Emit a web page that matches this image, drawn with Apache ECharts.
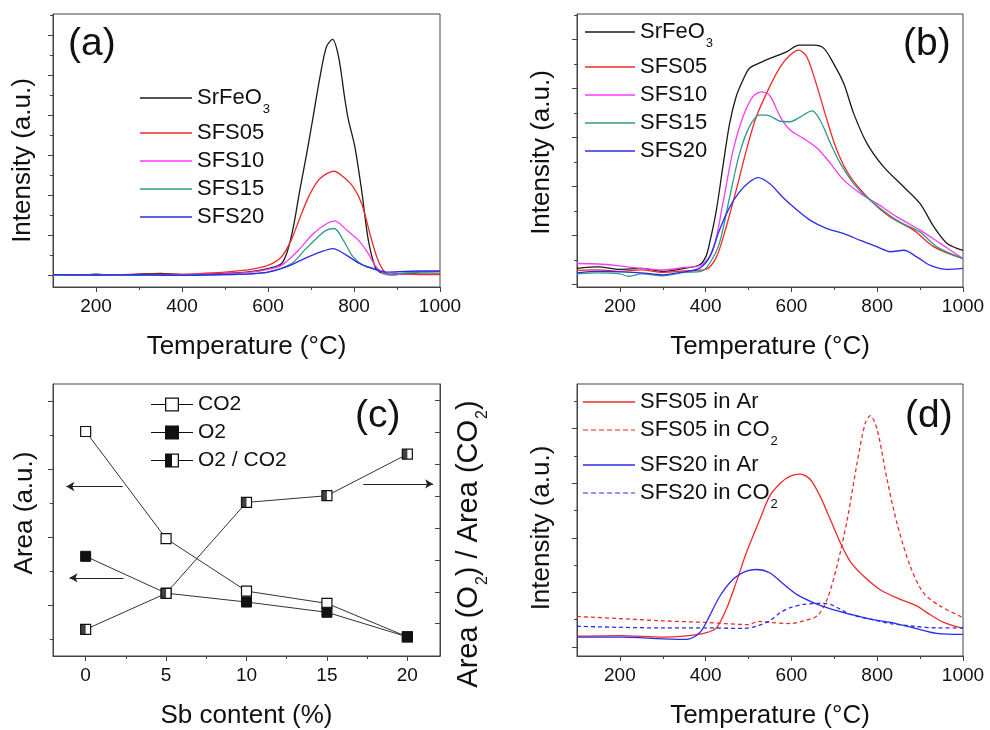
<!DOCTYPE html>
<html>
<head>
<meta charset="utf-8">
<script src="https://cdn.jsdelivr.net/npm/echarts@6/dist/echarts.min.js"></script>
<style>
html, body { margin: 0; padding: 0; background: #fff; }
#container { width: 990px; height: 730px; }
</style>
</head>
<body>
<div id="container"></div>
<script>
var FONT = 'Liberation Sans, Arial, sans-serif';
var AXIS = '#444';
var TXT = '#111';

// ---- (a) temperature vs intensity, [T, I]
var a_SrFeO3 = [[100,0.02],[150,0.0],[200,0.03],[250,0.0],[300,0.03],[350,0.05],[400,0.02],[450,0.03],[500,0.05],[550,0.08],[600,0.17],[631,0.29],[645,0.6],[659,1.21],[674,2.13],[690,3.04],[705,3.96],[721,4.96],[736,5.71],[750,5.89],[764,5.46],[779,4.38],[787,3.88],[802,3.21],[818,2.1],[833,0.9],[849,0.21],[860,0.08],[880,0.03],[920,0.04],[960,0.03],[1000,0.03]];
var a_SFS05 = [[100,0.02],[200,0.0],[300,0.03],[400,0.03],[450,0.05],[500,0.08],[560,0.15],[600,0.25],[631,0.46],[654,0.88],[675,1.46],[698,2.04],[721,2.42],[754,2.6],[775,2.46],[798,2.21],[818,1.79],[837,1.04],[853,0.46],[868,0.13],[884,0.02],[920,0.03],[960,0.02],[1000,0.02]];
var a_SFS10 = [[100,0.01],[200,0.02],[300,0.0],[400,0.02],[500,0.04],[560,0.08],[600,0.15],[631,0.25],[670,0.62],[705,1.04],[736,1.29],[755,1.36],[783,1.13],[810,0.88],[829,0.62],[849,0.25],[868,0.05],[890,0.0],[920,0.06],[960,0.09],[1000,0.1]];
var a_SFS15 = [[100,0.0],[200,0.01],[300,0.0],[400,0.01],[500,0.02],[560,0.04],[600,0.08],[654,0.29],[685,0.63],[716,0.96],[736,1.13],[754,1.17],[775,0.88],[798,0.46],[822,0.25],[853,0.13],[884,0.02],[920,0.06],[960,0.08],[1000,0.09]];
var a_SFS20 = [[100,0.02],[200,0.01],[300,0.02],[400,0.0],[500,0.02],[560,0.04],[600,0.08],[643,0.21],[685,0.42],[721,0.58],[751,0.67],[783,0.5],[814,0.29],[845,0.17],[876,0.08],[920,0.1],[960,0.11],[1000,0.11]];

// ---- (b)
var b_SrFeO3 = [[100,0.33],[150,0.36],[200,0.31],[250,0.33],[300,0.27],[350,0.33],[385,0.4],[400,0.56],[409,0.84],[425,1.52],[440,2.4],[456,3.29],[471,3.83],[487,4.17],[502,4.41],[526,4.52],[550,4.61],[590,4.75],[617,4.88],[652,4.88],[675,4.82],[698,4.51],[722,4.1],[745,3.49],[776,2.88],[815,2.4],[862,1.99],[900,1.65],[932,1.18],[963,0.84],[1000,0.7]];
var b_SFS05 = [[100,0.29],[150,0.3],[200,0.27],[250,0.3],[300,0.25],[350,0.28],[400,0.31],[425,0.56],[448,1.18],[471,1.92],[495,2.74],[518,3.42],[549,4.03],[574,4.44],[597,4.68],[617,4.78],[636,4.64],[660,4.03],[683,3.35],[706,2.74],[737,2.2],[784,1.72],[830,1.38],[885,1.11],[932,0.77],[1000,0.53]];
var b_SFS10 = [[100,0.43],[150,0.42],[200,0.38],[250,0.33],[300,0.3],[350,0.35],[390,0.4],[417,0.7],[440,1.65],[464,2.74],[487,3.42],[510,3.83],[530,3.93],[549,3.86],[574,3.42],[597,3.15],[628,2.98],[660,2.78],[691,2.47],[722,2.13],[761,1.86],[800,1.65],[846,1.38],[900,1.11],[947,0.84],[1000,0.53]];
var b_SFS15 = [[100,0.22],[150,0.24],[200,0.22],[220,0.17],[250,0.22],[300,0.18],[350,0.25],[390,0.27],[409,0.43],[432,0.84],[456,1.79],[479,2.67],[502,3.22],[526,3.46],[549,3.44],[574,3.33],[597,3.32],[621,3.42],[648,3.54],[667,3.35],[691,2.88],[714,2.47],[745,2.06],[784,1.72],[846,1.31],[900,1.07],[939,0.77],[1000,0.53]];
var b_SFS20 = [[100,0.24],[150,0.27],[200,0.26],[250,0.24],[300,0.2],[350,0.26],[385,0.33],[409,0.56],[432,1.11],[456,1.58],[479,1.89],[502,2.09],[522,2.18],[549,2.06],[582,1.76],[613,1.52],[644,1.31],[683,1.14],[722,1.04],[761,0.9],[800,0.77],[831,0.67],[862,0.7],[893,0.56],[924,0.39],[963,0.31],[1000,0.33]];

// ---- (c) Sb content vs area
var sbContent = [0, 5, 10, 15, 20];
var areaCO2 = [3.55, 1.98, 1.21, 1.03, 0.54];
var areaO2 = [1.72, 1.18, 1.05, 0.90, 0.54];
var areaRatio = [-0.18, 0.95, 3.80, 4.01, 5.31];

// ---- (d)
var d_SFS05_Ar = [[100,0.2],[200,0.21],[300,0.18],[350,0.2],[400,0.26],[425,0.35],[448,0.69],[471,1.18],[495,1.73],[526,2.33],[549,2.76],[574,3.0],[597,3.13],[621,3.17],[644,3.07],[667,2.76],[691,2.33],[714,1.91],[737,1.57],[768,1.3],[807,1.05],[846,0.9],[893,0.75],[916,0.63],[955,0.45],[1000,0.34]];
var d_SFS05_CO2 = [[100,0.56],[200,0.52],[300,0.48],[400,0.45],[500,0.41],[522,0.47],[551,0.45],[597,0.43],[628,0.48],[660,0.57],[683,0.87],[706,1.48],[730,2.33],[753,3.37],[772,4.1],[784,4.24],[800,3.98],[823,3.07],[846,2.27],[877,1.48],[908,0.99],[947,0.75],[1000,0.54]];
var d_SFS20_Ar = [[100,0.18],[200,0.18],[300,0.15],[355,0.14],[386,0.26],[409,0.57],[433,0.93],[464,1.24],[495,1.39],[518,1.42],[549,1.36],[582,1.15],[613,0.96],[652,0.81],[691,0.7],[737,0.6],[784,0.51],[831,0.45],[885,0.35],[939,0.25],[1000,0.23]];
var d_SFS20_CO2 = [[100,0.38],[200,0.36],[300,0.35],[400,0.35],[487,0.34],[518,0.38],[549,0.48],[574,0.63],[597,0.72],[628,0.78],[667,0.8],[691,0.78],[737,0.6],[784,0.51],[831,0.43],[885,0.38],[939,0.35],[1000,0.35]];

// ---- tick positions
var tempTicks = [200, 400, 600, 800, 1000];
var tempMinor = [300, 500, 700, 900];
var sbTicks = [0, 5, 10, 15, 20];
var sbMinor = [2.5, 7.5, 12.5, 17.5];
var aTicks = [0, 1, 2, 3, 4, 5, 6];
var aMinor = [0.5, 1.5, 2.5, 3.5, 4.5, 5.5, 6.5];
var bTicks = [0, 1, 2, 3, 4, 5];
var bMinor = [0.5, 1.5, 2.5, 3.5, 4.5, 5.5];
var cTicks = [1, 2, 3, 4];
var cMinor = [0.5, 1.5, 2.5, 3.5];
var cRightTicks = [0, 1, 2, 3, 4, 5, 6, 7];
var dTicks = [0, 1, 2, 3, 4];
var dMinor = [0.5, 1.5, 2.5, 3.5, 4.5];

var COL = { black: '#1a1a1a', red: '#ee2a2a', magenta: '#f53cf5', teal: '#2f9a8c', blue: '#2b2bee' };

function xPair(grid, min, max, major, minor, name) {
    return [{
        type: 'value', gridIndex: grid, position: 'bottom', min: min, max: max,
        name: name, nameLocation: 'middle', nameGap: 47,
        nameTextStyle: { fontSize: 26, fontFamily: FONT, color: TXT },
        axisLine: { show: true, onZero: false, lineStyle: { color: AXIS, width: 1 } },
        axisTick: { show: true, customValues: major, length: 5, lineStyle: { color: AXIS } },
        axisLabel: { customValues: major, fontSize: 19, fontFamily: FONT, color: TXT, margin: 10,
                     formatter: function (v) { return String(v); } },
        splitLine: { show: false }
    }, {
        type: 'value', gridIndex: grid, position: 'bottom', min: min, max: max,
        axisLine: { show: false, onZero: false },
        axisTick: { show: true, customValues: minor, length: 3, lineStyle: { color: AXIS } },
        axisLabel: { show: false },
        splitLine: { show: false }
    }];
}

// shift moves the rotated title along the axis (positive = down)
function yPair(grid, min, max, major, minor, name, gap, shift) {
    var pad = shift >= 0 ? [0, 2 * shift, 0, 0] : [0, 0, 0, -2 * shift];
    return [{
        type: 'value', gridIndex: grid, position: 'left', min: min, max: max,
        name: name, nameLocation: 'middle', nameGap: gap, nameRotate: 90,
        nameTextStyle: { fontSize: 26, fontFamily: FONT, color: TXT, padding: pad },
        axisLine: { show: true, onZero: false, lineStyle: { color: AXIS, width: 1 } },
        axisTick: { show: true, customValues: major, length: 5, lineStyle: { color: AXIS } },
        axisLabel: { show: false, customValues: major },
        splitLine: { show: false }
    }, {
        type: 'value', gridIndex: grid, position: 'left', min: min, max: max,
        axisLine: { show: false, onZero: false },
        axisTick: { show: true, customValues: minor, length: 3, lineStyle: { color: AXIS } },
        axisLabel: { show: false },
        splitLine: { show: false }
    }];
}

function curve(name, data, color, xi, yi, dashed) {
    return {
        type: 'line', name: name, data: data, xAxisIndex: xi, yAxisIndex: yi,
        symbol: 'none', showSymbol: false, smooth: 0.3,
        lineStyle: { color: color, width: 1.3, type: dashed ? [4, 3] : 'solid' },
        itemStyle: { color: color }
    };
}

function pairs(xs, ys) {
    return xs.map(function (x, i) { return [x, ys[i]]; });
}

var subRich = { s: { fontSize: 13, fontFamily: FONT, color: TXT, padding: [19, 0, -4, 1] } };
var legendText = { fontSize: 22, fontFamily: FONT, color: TXT, rich: subRich };
function subFormat(name) {
    if (name === 'SrFeO3') return 'SrFeO{s|3}';
    return name.replace(/CO2$/, 'CO{s|2}');
}

// legend icons
var dashIcon = 'path://M0 0H5V1H0Z M8 0H13V1H8Z M16 0H21V1H16Z M24 0H29V1H24Z M32 0H37V1H32Z M40 0H45V1H40Z M48 0H52V1H48Z';
var pathOpen = 'path://M0 6.5H14V7.5H0Z M14 0H28V14H14Z M15.3 1.3V12.7H26.7V1.3Z M28 6.5H42V7.5H28Z';
var pathFilled = 'path://M0 6.5H14V7.5H0Z M14 0H28V14H14Z M28 6.5H42V7.5H28Z';
var pathHalf = 'path://M0 6.5H14V7.5H0Z M14 0H28V14H14Z M15.3 1.3V12.7H26.7V1.3Z M14 0H21V14H14Z M28 6.5H42V7.5H28Z';
var blackIcon = { color: '#111', borderWidth: 0 };

var gridBox = { show: true, borderColor: AXIS, borderWidth: 1, backgroundColor: 'transparent' };

var rightAxis = {
    type: 'value', gridIndex: 2, position: 'right', min: -1.0125, max: 7.51,
    name: 'Area (O{s|2}) / Area (CO{s|2})', nameLocation: 'middle', nameGap: 14, nameRotate: 90,
    nameTextStyle: { fontSize: 29, fontFamily: FONT, color: TXT, padding: [0, 48, 0, 0],
        rich: { s: { fontSize: 16, fontFamily: FONT, color: TXT, padding: [20, 0, -8, 1] } } },
    axisLine: { show: true, onZero: false, lineStyle: { color: AXIS, width: 1 } },
    axisTick: { show: true, inside: true, customValues: cRightTicks, length: 5, lineStyle: { color: AXIS } },
    axisLabel: { show: false, customValues: cRightTicks },
    splitLine: { show: false }
};

var sq = { color: '#fff', borderColor: '#111', borderWidth: 1.2 };
var cLine = { color: '#333', width: 1 };
var arrowLine = { color: '#222', width: 1, type: 'solid' };

function lineLegend(left, top, width, names, dashed) {
    return {
        left: left, top: top, orient: 'vertical', itemWidth: width, itemHeight: 1.4, itemGap: 6,
        selectedMode: false, formatter: subFormat, textStyle: legendText,
        itemStyle: { borderWidth: 0 },
        data: names.map(function (n, i) {
            return { name: n, icon: dashed && dashed[i] ? dashIcon : 'rect' };
        })
    };
}

var option = {
    animation: false,
    backgroundColor: '#fff',
    grid: [
        Object.assign({ left: 53, top: 14, width: 387, height: 273 }, gridBox),
        Object.assign({ left: 577, top: 14, width: 386, height: 273 }, gridBox),
        Object.assign({ left: 53, top: 384, width: 387, height: 273 }, gridBox),
        Object.assign({ left: 577, top: 384, width: 386, height: 273 }, gridBox)
    ],
    xAxis: [].concat(
        xPair(0, 100, 1000, tempTicks, tempMinor, 'Temperature (°C)'),
        xPair(1, 100, 1000, tempTicks, tempMinor, 'Temperature (°C)'),
        xPair(2, -2.03, 22.03, sbTicks, sbMinor, 'Sb content (%)'),
        xPair(3, 100, 1000, tempTicks, tempMinor, 'Temperature (°C)')
    ),
    yAxis: [].concat(
        yPair(0, -0.29, 6.525, aTicks, aMinor, 'Intensity (a.u.)', 17, 10),
        yPair(1, -0.049, 5.516, bTicks, bMinor, 'Intensity (a.u.)', 22, 2),
        yPair(2, 0.259, 4.246, cTicks, cMinor, 'Area (a.u.)', 15, -7),
        [rightAxis],
        yPair(3, -0.165, 4.82, dTicks, dMinor, 'Intensity (a.u.)', 22, 8)
    ),
    legend: [
        lineLegend(135, 82, 52, ['SrFeO3', 'SFS05', 'SFS10', 'SFS15', 'SFS20']),
        lineLegend(580, 16, 50, ['SrFeO3', 'SFS05', 'SFS10', 'SFS15', 'SFS20']),
        { left: 146, top: 389, orient: 'vertical', itemWidth: 42, itemHeight: 14, itemGap: 7,
          selectedMode: false, textStyle: { fontSize: 21, fontFamily: FONT, color: TXT },
          data: [
              { name: 'CO2', icon: pathOpen, itemStyle: blackIcon },
              { name: 'O2', icon: pathFilled, itemStyle: blackIcon },
              { name: 'O2 / CO2', icon: pathHalf, itemStyle: blackIcon }
          ] },
        lineLegend(578, 386, 52, ['SFS05 in Ar', 'SFS05 in CO2', 'SFS20 in Ar', 'SFS20 in CO2'],
                   [false, true, false, true])
    ],
    graphic: [
        { type: 'text', left: 68, top: 25, style: { text: '(a)', fontSize: 39, fontFamily: FONT, fill: TXT } },
        { type: 'text', left: 903, top: 25, style: { text: '(b)', fontSize: 39, fontFamily: FONT, fill: TXT } },
        { type: 'text', left: 355, top: 397, style: { text: '(c)', fontSize: 39, fontFamily: FONT, fill: TXT } },
        { type: 'text', left: 905, top: 397, style: { text: '(d)', fontSize: 39, fontFamily: FONT, fill: TXT } }
    ],
    series: [
        curve('SrFeO3', a_SrFeO3, COL.black, 0, 0),
        curve('SFS05', a_SFS05, COL.red, 0, 0),
        curve('SFS10', a_SFS10, COL.magenta, 0, 0),
        curve('SFS15', a_SFS15, COL.teal, 0, 0),
        curve('SFS20', a_SFS20, COL.blue, 0, 0),

        curve('SrFeO3', b_SrFeO3, COL.black, 2, 2),
        curve('SFS05', b_SFS05, COL.red, 2, 2),
        curve('SFS10', b_SFS10, COL.magenta, 2, 2),
        curve('SFS15', b_SFS15, COL.teal, 2, 2),
        curve('SFS20', b_SFS20, COL.blue, 2, 2),

        {
            type: 'line', name: 'CO2', data: pairs(sbContent, areaCO2), xAxisIndex: 4, yAxisIndex: 4,
            symbol: 'rect', symbolSize: 10, lineStyle: cLine, itemStyle: sq,
            markLine: {
                silent: true, symbol: ['none', 'arrow'], symbolSize: [7, 8], lineStyle: arrowLine,
                label: { show: false },
                data: [
                    [{ coord: [2.3, 2.744] }, { coord: [-1.2, 2.744] }],
                    [{ coord: [2.35, 1.405] }, { coord: [-1.0, 1.405] }]
                ]
            }
        },
        {
            type: 'line', name: 'O2', data: pairs(sbContent, areaO2), xAxisIndex: 4, yAxisIndex: 4,
            symbol: 'rect', symbolSize: 10, lineStyle: cLine,
            itemStyle: { color: '#111', borderColor: '#111', borderWidth: 1 }
        },
        {
            type: 'line', name: 'O2 / CO2', data: pairs(sbContent, areaRatio), xAxisIndex: 4, yAxisIndex: 6,
            symbol: 'rect', symbolSize: 10, lineStyle: cLine, itemStyle: sq,
            markLine: {
                silent: true, symbol: ['none', 'arrow'], symbolSize: [7, 8], lineStyle: arrowLine,
                label: { show: false },
                data: [[{ coord: [17.26, 4.38] }, { coord: [21.6, 4.38] }]]
            }
        },
        {
            type: 'scatter', name: 'ratio half', data: pairs(sbContent, areaRatio), xAxisIndex: 4, yAxisIndex: 6,
            symbol: 'rect', symbolSize: [5, 10], symbolOffset: [-2.5, 0], z: 5,
            itemStyle: { color: '#111' }
        },

        curve('SFS05 in Ar', d_SFS05_Ar, COL.red, 6, 7),
        curve('SFS05 in CO2', d_SFS05_CO2, COL.red, 6, 7, true),
        curve('SFS20 in Ar', d_SFS20_Ar, COL.blue, 6, 7),
        curve('SFS20 in CO2', d_SFS20_CO2, COL.blue, 6, 7, true)
    ]
};

var myChart = echarts.init(document.getElementById('container'), null, { renderer: 'canvas' });
myChart.setOption(option);
window.addEventListener('resize', function () { myChart.resize(); });
</script>
</body>
</html>
